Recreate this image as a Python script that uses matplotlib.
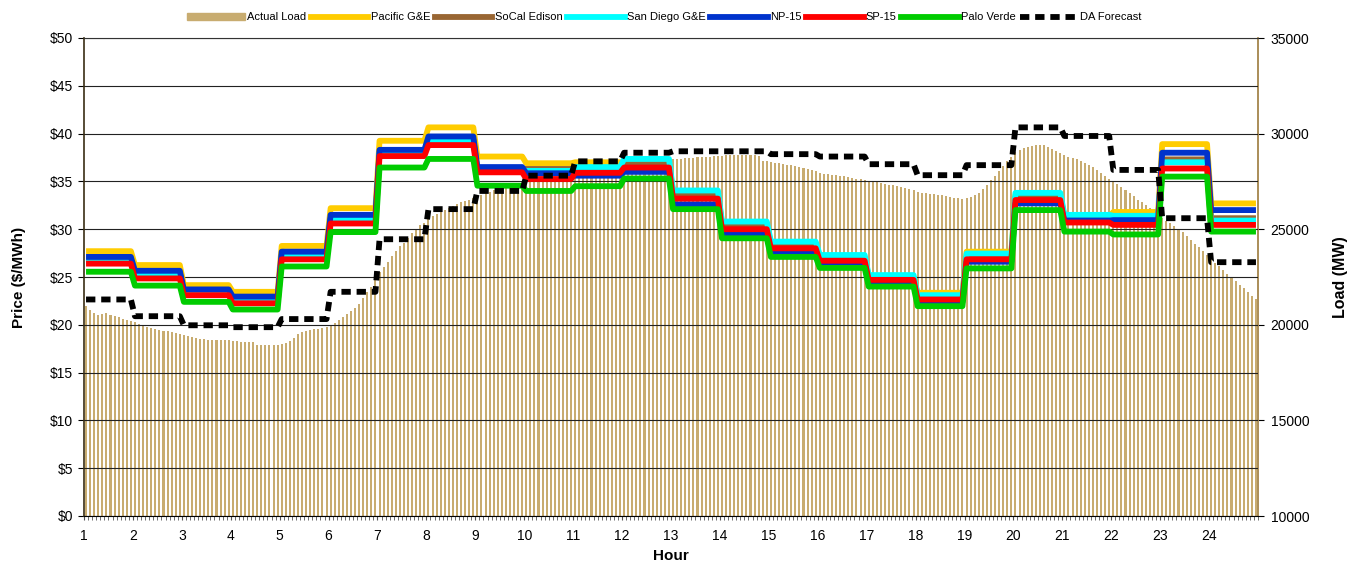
import numpy as np
import matplotlib.pyplot as plt
from matplotlib.lines import Line2D
from matplotlib.patches import Patch
from matplotlib.ticker import FuncFormatter, MultipleLocator

plt.rcParams["font.family"] = ["Liberation Sans", "DejaVu Sans"]

hours = list(range(1, 25))

# 5-minute actual load (MW), 12 values per hour
load = [
    21000, 20750, 20600, 20500, 20550, 20600, 20500, 20450, 20400, 20300, 20250, 20200,  # 1
    20150, 20050, 19950, 19900, 19850, 19800, 19750, 19700, 19650, 19600, 19550, 19500,  # 2
    19450, 19400, 19350, 19300, 19250, 19250, 19200, 19200, 19200, 19200, 19200, 19200,  # 3
    19150, 19150, 19100, 19100, 19100, 19100, 18950, 18950, 18950, 18950, 18950, 18950,  # 4
    19000, 19050, 19150, 19300, 19500, 19600, 19700, 19750, 19800, 19800, 19850, 19900,  # 5
    20000, 20100, 20250, 20400, 20550, 20700, 20900, 21100, 21400, 21700, 22000, 22350,  # 6
    22750, 23000, 23300, 23600, 23850, 24100, 24300, 24550, 24800, 25000, 25200, 25350,  # 7
    25550, 25700, 25800, 25900, 26000, 26100, 26200, 26300, 26400, 26450, 26550, 26650,  # 8
    26700, 26800, 26900, 26950, 27050, 27100, 27150, 27200, 27250, 27300, 27350, 27400,  # 9
    27450, 27500, 27500, 27550, 27600, 27600, 27650, 27650, 27700, 27700, 27700, 27750,  # 10
    27800, 27850, 27850, 27900, 27950, 28000, 28000, 28050, 28100, 28100, 28150, 28200,  # 11
    28250, 28300, 28300, 28350, 28400, 28400, 28450, 28500, 28500, 28550, 28600, 28650,  # 12
    28650, 28650, 28650, 28700, 28700, 28700, 28750, 28750, 28800, 28800, 28850, 28850,  # 13
    28850, 28900, 28900, 28900, 28900, 28900, 28900, 28900, 28900, 28850, 28550, 28550,  # 14
    28500, 28450, 28450, 28400, 28350, 28350, 28300, 28250, 28200, 28150, 28100, 28050,  # 15
    27950, 27900, 27900, 27850, 27850, 27800, 27800, 27750, 27700, 27650, 27600, 27550,  # 16
    27500, 27450, 27450, 27400, 27350, 27300, 27300, 27250, 27200, 27150, 27100, 27050,  # 17
    26950, 26900, 26900, 26850, 26850, 26800, 26800, 26750, 26700, 26650, 26650, 26600,  # 18
    26650, 26700, 26800, 26900, 27100, 27300, 27550, 27800, 28050, 28300, 28550, 28800,  # 19
    29050, 29150, 29250, 29300, 29350, 29400, 29400, 29400, 29300, 29200, 29100, 29000,  # 20
    28900, 28800, 28700, 28650, 28550, 28450, 28350, 28250, 28100, 27950, 27800, 27650,  # 21
    27500, 27350, 27200, 27050, 26900, 26750, 26550, 26400, 26250, 26100, 25950, 25800,  # 22
    25600, 25450, 25300, 25150, 25000, 24850, 24650, 24450, 24250, 24050, 23850, 23650,  # 23
    23450, 23250, 23050, 22850, 22650, 22500, 22300, 22100, 21900, 21700, 21500, 21350,  # 24
]

# hourly prices ($/MWh)
pge = [27.7, 26.25, 24.15, 23.45, 28.25, 32.2, 39.25, 40.65, 37.6, 36.9, 37.0, 37.0,
       33.9, 30.6, 28.5, 27.1, 25.0, 23.35, 27.65, 33.6, 31.3, 31.8, 38.9, 32.7]
sce = [26.85, 25.4, 23.45, 22.6, 27.3, 31.15, 38.1, 39.4, 36.3, 36.3, 36.2, 36.8,
       33.7, 30.35, 28.3, 26.95, 24.9, 22.9, 27.1, 33.4, 31.2, 31.1, 37.3, 31.15]
sdge = [26.7, 25.3, 23.35, 22.5, 27.1, 31.0, 38.0, 39.2, 36.2, 36.1, 36.5, 37.35,
        34.05, 30.8, 28.7, 27.3, 25.2, 23.1, 27.45, 33.8, 31.5, 31.4, 37.0, 30.9]
np15 = [27.1, 25.65, 23.7, 22.95, 27.65, 31.5, 38.3, 39.7, 36.5, 35.85, 35.6, 36.0,
        32.6, 29.45, 27.5, 26.35, 24.35, 22.4, 26.6, 32.7, 30.9, 30.95, 38.0, 32.0]
sp15 = [26.4, 24.85, 23.1, 22.25, 26.85, 30.6, 37.65, 38.8, 35.95, 35.25, 35.9, 36.45,
        33.2, 30.0, 28.0, 26.7, 24.7, 22.65, 26.85, 33.05, 30.7, 30.45, 36.35, 30.45]
palo = [25.55, 24.1, 22.4, 21.6, 26.1, 29.7, 36.45, 37.35, 34.55, 34.0, 34.5, 35.3,
        32.1, 29.05, 27.1, 25.95, 24.0, 21.95, 25.9, 32.0, 29.75, 29.45, 35.5, 29.75]
da_fcst = [22.65, 20.9, 19.95, 19.75, 20.6, 23.45, 28.95, 32.1, 34.0, 35.6, 37.1, 38.0,
           38.15, 38.15, 37.85, 37.6, 36.8, 35.65, 36.7, 40.65, 39.75, 36.2, 31.15, 26.55]

series = [
    ("Pacific G&E", pge, "#FFCC00"),
    ("SoCal Edison", sce, "#996633"),
    ("San Diego G&E", sdge, "#00FFFF"),
    ("NP-15", np15, "#0033CC"),
    ("SP-15", sp15, "#FF0000"),
    ("Palo Verde", palo, "#00CC00"),
]

step = 1 / 12
xbar = 1 + (np.arange(len(load)) + 0.5) * step
# hourly values held flat across the 12 five-minute slots of each hour
xline = np.column_stack([np.array(hours) + 0.5 * step, np.array(hours) + 11.5 * step]).ravel()


def stepped(vals):
    return np.repeat(vals, 2)


fig = plt.figure(figsize=(13.56, 5.65), dpi=100)
ax = fig.add_axes([84 / 1356, 49 / 565, 1174 / 1356, 478 / 565])
ax2 = ax.twinx()

ax2.bar(xbar, np.array(load) - 10000, bottom=10000, width=step * 0.5,
        color="#C8AC70", linewidth=0)
ax2.set_ylim(10000, 35000)
ax2.yaxis.set_major_locator(MultipleLocator(5000))

for name, vals, col in series:
    ax.plot(xline, stepped(vals), color=col, lw=4.2, solid_joinstyle="round",
            solid_capstyle="butt")
ax.plot(xline, stepped(da_fcst), color="black", lw=4.2, dashes=(1.6, 1.0))

ax.set_zorder(ax2.get_zorder() + 1)
ax.patch.set_visible(False)

ax.set_xlim(1, 25)
ax.set_ylim(0, 50)
ax.yaxis.set_major_locator(MultipleLocator(5))
ax.yaxis.set_major_formatter(FuncFormatter(lambda v, p: f"${v:.0f}"))
ax.set_xticks(hours)
ax.set_xticks(np.arange(1, 25 + step / 2, step), minor=True)
ax.yaxis.grid(True, color="#222222", lw=0.8)
ax.set_axisbelow(True)

ax.tick_params(axis="x", which="both", direction="out", length=3, color="#555555",
               labelsize=10, pad=6)
ax.tick_params(axis="y", direction="out", length=4, labelsize=10, pad=4)
ax2.tick_params(axis="y", direction="out", length=4, labelsize=10, pad=5)

ax.spines["right"].set_visible(False)
for s in ["left", "top", "bottom"]:
    ax2.spines[s].set_visible(False)
ax.spines["left"].set_color("#3a2e14")
ax.spines["left"].set_linewidth(1.2)
ax.spines["top"].set_color("#333333")
ax2.spines["right"].set_color("#9C7A3C")
ax2.spines["right"].set_linewidth(1.2)

ax.set_xlabel("Hour", fontsize=11, fontweight="bold", labelpad=5)
ax.set_ylabel("Price ($/MWh)", fontsize=11, fontweight="bold", labelpad=17)
ax2.set_ylabel("Load (MW)", fontsize=11.5, fontweight="bold", labelpad=17)

handles = [Patch(color="#C8AC70", label="Actual Load")]
for name, vals, col in series:
    handles.append(Line2D([], [], color=col, lw=4.2, label=name))
handles.append(Line2D([], [], color="black", lw=4.2, dashes=(1.6, 1.0), label="DA Forecast"))
fig.legend(handles=handles, loc="upper center", bbox_to_anchor=(0.49, 0.996), ncol=8,
           frameon=False, fontsize=8, handlelength=5.2, handletextpad=0.2,
           columnspacing=0.4, handleheight=0.6)

fig.savefig("out.png", dpi=100)
